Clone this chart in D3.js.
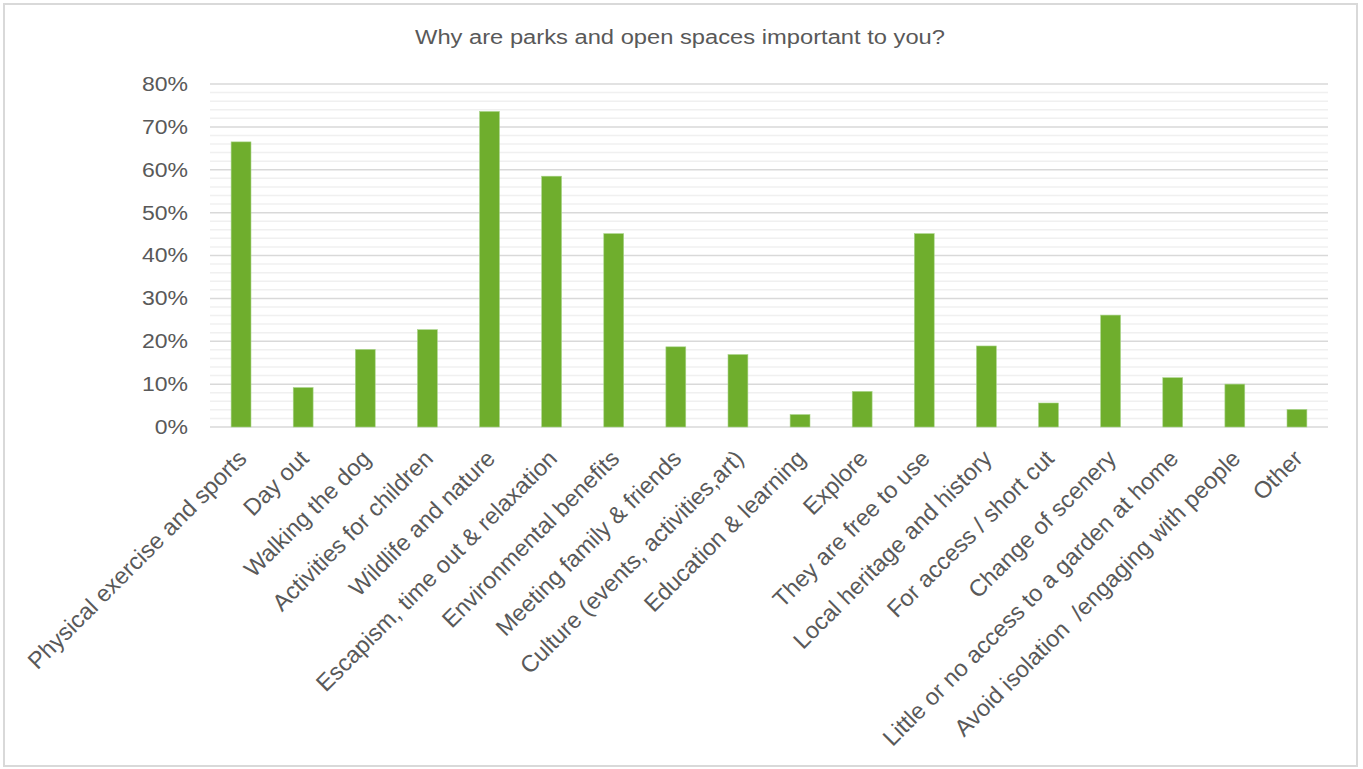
<!DOCTYPE html>
<html>
<head>
<meta charset="utf-8">
<script src="https://cdn.jsdelivr.net/npm/d3@7"></script>
<style>
  html, body { margin: 0; padding: 0; background: #fff; }
  svg { display: block; font-family: "Liberation Sans", Arial, sans-serif; }
  text { white-space: pre; }
</style>
</head>
<body>
<svg id="chart" width="1363" height="769"></svg>
<script>
// Survey responses: share of respondents choosing each reason
const categories = [
  "Physical exercise and sports",
  "Day out",
  "Walking the dog",
  "Activities for children",
  "Wildlife and nature",
  "Escapism, time out & relaxation",
  "Environmental benefits",
  "Meeting family & friends",
  "Culture (events, activities,art)",
  "Education & learning",
  "Explore",
  "They are free to use",
  "Local heritage and history",
  "For access / short cut",
  "Change of scenery",
  "Little or no access to a garden at home",
  "Avoid isolation  /engaging with people",
  "Other"
];
const values = [66.5, 9.2, 18.1, 22.7, 73.6, 58.5, 45.1, 18.7, 16.9, 2.9, 8.3, 45.1, 18.9, 5.6, 26.1, 11.5, 10.0, 4.1];
const majorTicks = [0, 10, 20, 30, 40, 50, 60, 70, 80];
const minorTicks = d3.range(0, 81, 2).filter(v => v % 10 !== 0);
const title = "Why are parks and open spaces important to you?";

const W = 1363, H = 769;
const plot = { left: 210, right: 1328, top: 84, bottom: 427 };
const textColor = "#595959";

const svg = d3.select("#chart");

// outer frame
svg.append("rect")
  .attr("x", 4).attr("y", 4)
  .attr("width", W - 10).attr("height", H - 7)
  .attr("fill", "#fff")
  .attr("stroke", "#d9d9d9")
  .attr("stroke-width", 2);

const x = d3.scaleBand()
  .domain(categories)
  .range([plot.left, plot.right])
  .paddingInner(0.68)
  .paddingOuter(0.34);

const y = d3.scaleLinear()
  .domain([0, 80])
  .range([plot.bottom, plot.top]);

// minor gridlines
svg.append("g")
  .selectAll("line")
  .data(minorTicks)
  .join("line")
  .attr("x1", plot.left).attr("x2", plot.right)
  .attr("y1", d => y(d)).attr("y2", d => y(d))
  .attr("stroke", "#f0f0f0")
  .attr("stroke-width", 1.5);

// major gridlines
svg.append("g")
  .selectAll("line")
  .data(majorTicks)
  .join("line")
  .attr("x1", plot.left).attr("x2", plot.right)
  .attr("y1", d => y(d)).attr("y2", d => y(d))
  .attr("stroke", "#d9d9d9")
  .attr("stroke-width", 1.5);

// widen a text element horizontally by a factor
function widen(sel, factor) {
  sel.each(function () {
    const len = this.getComputedTextLength();
    d3.select(this)
      .attr("textLength", len * factor)
      .attr("lengthAdjust", "spacingAndGlyphs");
  });
}

// y axis labels
const yAxis = d3.axisLeft(y)
  .tickValues(majorTicks)
  .tickFormat(d => d + "%")
  .tickSize(0)
  .tickPadding(22);
const yg = svg.append("g")
  .attr("transform", `translate(${plot.left},0)`)
  .call(yAxis);
yg.select(".domain").remove();
yg.selectAll("text")
  .attr("fill", textColor)
  .style("font-size", "20px")
  .style("font-family", "'Liberation Sans', Arial, sans-serif")
  .call(widen, 1.15);

// bars
svg.append("g")
  .selectAll("rect")
  .data(values)
  .join("rect")
  .attr("x", (d, i) => x(categories[i]))
  .attr("width", x.bandwidth())
  .attr("y", d => y(d))
  .attr("height", d => y(0) - y(d))
  .attr("fill", "#6fae2d")
  .attr("stroke", "#a9d48a")
  .attr("stroke-width", 0.6);

// x axis labels, rotated
const xAxis = d3.axisBottom(x).tickSize(0).tickPadding(0);
const xg = svg.append("g")
  .attr("transform", `translate(0,${plot.bottom})`)
  .call(xAxis);
xg.select(".domain").remove();
xg.selectAll(".tick text")
  .attr("fill", textColor)
  .style("font-size", "23.5px")
  .style("font-family", "'Liberation Sans', Arial, sans-serif")
  .attr("text-anchor", "end")
  .attr("dy", "0")
  .attr("y", 0)
  .attr("transform", "translate(7,33) rotate(-45)");

// title
svg.append("text")
  .attr("x", 680)
  .attr("y", 44)
  .attr("text-anchor", "middle")
  .attr("fill", textColor)
  .style("font-size", "20px")
  .text(title)
  .call(sel => sel.attr("textLength", 530).attr("lengthAdjust", "spacingAndGlyphs"));
</script>
</body>
</html>
